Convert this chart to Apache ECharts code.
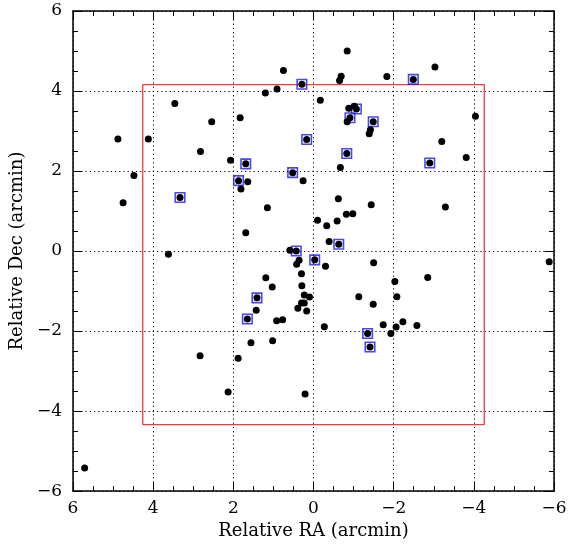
<!DOCTYPE html>
<html>
<head>
<meta charset="utf-8">
<script src="https://cdn.jsdelivr.net/npm/echarts@6/dist/echarts.min.js"></script>
<style>
html,body{margin:0;padding:0;background:#fff;}
#chart{width:585px;height:545px;}
</style>
</head>
<body>
<div id="chart"></div>
<script>
// Relative RA (arcmin), Relative Dec (arcmin) for all sources (black dots)
const dotsRA = [0.75,0.29,0.91,1.20,-0.17,3.46,1.83,2.54,4.88,4.12,0.17,2.82,2.07,1.69,0.52,4.48,1.87,1.64,0.26,1.81,4.75,3.33,1.15,-0.10,1.69,0.59,0.43,3.62,
  -0.84,-3.03,-0.69,-0.65,-1.83,-2.49,-0.88,-1.02,-1.07,-0.91,-0.84,-1.49,-1.42,-1.39,-4.04,-3.20,-3.81,-2.90,-0.83,-0.67,-0.62,-1.44,-3.29,-0.82,-0.98,-0.33,-0.59,-0.39,-0.63,
  -0.03,0.36,0.42,0.30,1.19,1.03,0.29,0.23,0.10,0.30,0.23,0.39,0.17,1.41,1.43,1.65,0.92,0.77,1.56,1.02,2.83,1.88,2.13,0.21,5.71,
  -0.30,-1.50,-5.88,-2.85,-2.03,-1.13,-2.08,-1.49,-0.27,-1.74,-2.23,-2.58,-2.06,-1.93,-1.35,-1.41];
const dotsDec = [4.51,4.17,4.05,3.95,3.77,3.69,3.33,3.23,2.80,2.80,2.79,2.49,2.27,2.18,1.96,1.89,1.76,1.73,1.76,1.55,1.21,1.34,1.08,0.77,0.46,0.02,0.00,-0.08,
  5.00,4.60,4.37,4.26,4.36,4.29,3.57,3.62,3.55,3.33,3.23,3.23,3.03,2.93,3.37,2.74,2.34,2.20,2.44,2.09,1.31,1.16,1.10,0.92,0.93,0.63,0.75,0.24,0.17,
  -0.22,-0.23,-0.33,-0.57,-0.67,-0.90,-0.87,-1.10,-1.15,-1.30,-1.30,-1.43,-1.50,-1.17,-1.48,-1.70,-1.74,-1.72,-2.29,-2.24,-2.62,-2.68,-3.52,-3.57,-5.42,
  -0.38,-0.29,-0.27,-0.66,-0.76,-1.14,-1.14,-1.33,-1.89,-1.84,-1.77,-1.86,-1.90,-2.06,-2.06,-2.40];
// Highlighted sources (blue squares)
const boxRA  = [0.29,-2.49,-1.07,-0.91,-1.49,0.17,-0.83,-2.90,1.69,0.52,1.87,3.33,-0.63,0.43,-0.03,1.41,1.65,-1.35,-1.41];
const boxDec = [4.17,4.29,3.55,3.33,3.23,2.79,2.44,2.20,2.18,1.96,1.76,1.34,0.17,0.00,-0.22,-1.17,-1.70,-2.06,-2.40];
// Field outline: [east RA, west RA, south Dec, north Dec]
const fieldBox = [4.26, -4.26, -4.34, 4.16];
// Axis ticks
const axisMin = -6, axisMax = 6, axisStep = 2;

const fmt = v => (v < 0 ? '\u2212' + Math.abs(v) : String(v));
const fontFam = '"DejaVu Serif", serif';

const dots = dotsRA.map((x, i) => [x, dotsDec[i]]);
const boxes = boxRA.map((x, i) => [x, boxDec[i]]);
const rect = [
  [fieldBox[0], fieldBox[2]], [fieldBox[0], fieldBox[3]],
  [fieldBox[1], fieldBox[3]], [fieldBox[1], fieldBox[2]],
  [fieldBox[0], fieldBox[2]]
];

function axisBase(extra) {
  return Object.assign({
    type: 'value', min: axisMin, max: axisMax, interval: axisStep,
    axisLine: { show: true, onZero: false, lineStyle: { color: '#000', width: 1.5 } },
    axisTick: { show: true, inside: true, length: 9, lineStyle: { color: '#000', width: 1 } },
    minorTick: { show: true, splitNumber: 4, length: 5, lineStyle: { color: '#000', width: 1 } },
    splitLine: { show: false },
    axisLabel: { show: false }
  }, extra);
}

const chart = echarts.init(document.getElementById('chart'), null, { renderer: 'canvas' });
chart.setOption({
  animation: false,
  backgroundColor: '#fff',
  grid: { left: 73, right: 31, top: 11, bottom: 52 },
  xAxis: [
    axisBase({
      position: 'bottom', inverse: true,
      name: 'Relative RA (arcmin)', nameLocation: 'middle', nameGap: 29,
      nameTextStyle: { color: '#000', fontFamily: fontFam, fontSize: 18 },
      axisLabel: { show: true, color: '#000', fontFamily: fontFam, fontSize: 17, margin: 9, formatter: fmt },
      splitLine: { show: true, lineStyle: { color: '#000', width: 1, type: [1.2, 3] } }
    }),
    axisBase({ position: 'top', inverse: true })
  ],
  yAxis: [
    axisBase({
      position: 'left',
      name: 'Relative Dec (arcmin)', nameLocation: 'middle', nameGap: 34,
      nameTextStyle: { color: '#000', fontFamily: fontFam, fontSize: 18 },
      axisLabel: { show: true, color: '#000', fontFamily: fontFam, fontSize: 17, margin: 11, formatter: fmt },
      splitLine: { show: true, lineStyle: { color: '#000', width: 1, type: [1.2, 3] } }
    }),
    axisBase({ position: 'right' })
  ],
  series: [
    {
      type: 'line', data: rect, xAxisIndex: 0, yAxisIndex: 0,
      symbol: 'none', lineStyle: { color: '#f03c3c', width: 1.3 }, z: 2, silent: true
    },
    {
      type: 'scatter', data: boxes, xAxisIndex: 0, yAxisIndex: 0,
      symbol: 'rect', symbolSize: 9.5,
      itemStyle: { color: 'rgba(255,255,255,0)', borderColor: '#1a1aee', borderWidth: 1.6 }, z: 3
    },
    {
      type: 'scatter', data: dots, xAxisIndex: 0, yAxisIndex: 0,
      symbol: 'circle', symbolSize: 7, itemStyle: { color: '#000', opacity: 1 }, z: 4
    }
  ]
});
</script>
</body>
</html>
